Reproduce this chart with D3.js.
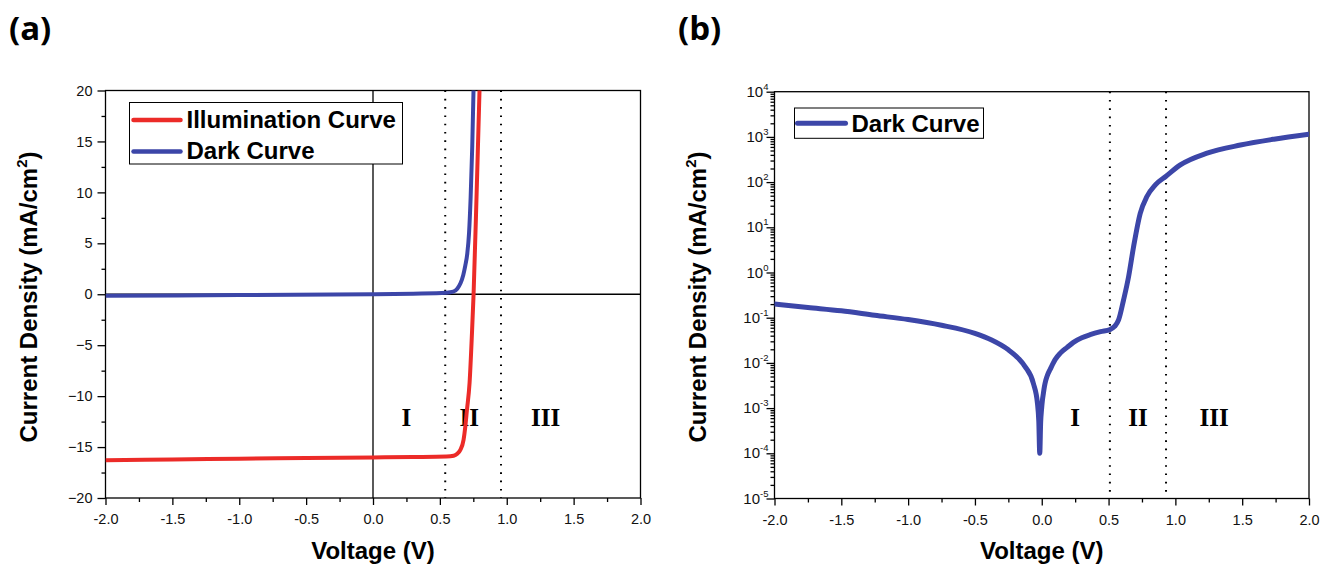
<!DOCTYPE html>
<html>
<head>
<meta charset="utf-8">
<script src="https://cdn.jsdelivr.net/npm/d3@7"></script>
<style>
  body { margin: 0; background: #fff; }
  svg { display: block; font-family: "Liberation Sans", Arial, sans-serif; }
</style>
</head>
<body>
<svg id="chart" width="1322" height="566"></svg>
<script>
// panel (a): J-V curves, linear axis (V in volts, J in mA/cm2)
const illumV = [-2.0, -1.5, -1.0, -0.5, 0.0, 0.3, 0.55, 0.603, 0.63, 0.652, 0.677, 0.69, 0.702, 0.722, 0.74, 0.752, 0.775, 0.797];
const illumJ = [-16.3, -16.22, -16.15, -16.08, -16.02, -15.98, -15.93, -15.85, -15.65, -15.3, -14.3, -13.0, -11.4, -8.7, -3.8, 0.0, 10.0, 20.3];
const darkV = [-2.0, -1.0, 0.0, 0.3, 0.55, 0.6, 0.63, 0.655, 0.675, 0.69, 0.705, 0.718, 0.73, 0.742, 0.752];
const darkJ = [-0.15, -0.08, 0.0, 0.06, 0.15, 0.25, 0.55, 1.1, 1.9, 2.8, 4.0, 6.0, 9.5, 14.5, 20.3];

// panel (b): dark curve, |J| on a log axis
const logDarkV = [-2.0, -1.75, -1.5, -1.25, -1.0, -0.75, -0.5, -0.375, -0.25, -0.175, -0.125, -0.0625, -0.0325, -0.022, -0.015,
  -0.008, -0.002, 0.005, 0.012, 0.02, 0.03, 0.045, 0.062, 0.1, 0.137, 0.19, 0.237, 0.3, 0.362, 0.44, 0.512, 0.545, 0.575, 0.612,
  0.65, 0.687, 0.737, 0.787, 0.85, 0.93, 1.037, 1.237, 1.487, 1.737, 2.0];
const logDarkJ = [0.20, 0.168, 0.142, 0.113, 0.091, 0.068, 0.045, 0.032, 0.0195, 0.0126, 0.0083, 0.0035, 0.0013, 0.0005, 0.0001,
  0.0005, 0.0009, 0.0015, 0.0021, 0.0030, 0.0041, 0.0056, 0.0071, 0.0118, 0.0162, 0.022, 0.0285, 0.036, 0.042, 0.049, 0.055, 0.064,
  0.089, 0.245, 0.81, 3.7, 20.4, 48, 87, 135, 240, 437, 660, 890, 1150];

const xTicks = [-2, -1.5, -1, -0.5, 0, 0.5, 1, 1.5, 2];
const xMinor = [-1.75, -1.25, -0.75, -0.25, 0.25, 0.75, 1.25, 1.75];
const yTicksA = [-20, -15, -10, -5, 0, 5, 10, 15, 20];
const yMinorA = [-17.5, -12.5, -7.5, -2.5, 2.5, 7.5, 12.5, 17.5];
const decadesB = [-5, -4, -3, -2, -1, 0, 1, 2, 3, 4];

const regionNames = ['I', 'II', 'III'];
const regionV = [0.25, 0.72, 1.29];
const boundsA = [0.54, 0.957];
const boundsB = [0.51, 0.93];
const labelJA = -12;
const labelJB = 6.5e-4;

const red = '#ec2b28';
const blue = '#3c46a8';

const svg = d3.select('#chart');

function styleAxis(g) {
  g.select('.domain').remove();
  g.selectAll('line').attr('stroke', '#000').attr('stroke-width', 1.3);
  g.selectAll('text').attr('font-size', 14.5).attr('fill', '#111')
    .attr('font-family', '"Liberation Sans", Arial, sans-serif');
}

function drawXAxis(g, x, bottom) {
  g.append('g').attr('transform', `translate(0,${bottom})`)
    .call(d3.axisBottom(x).tickValues(xMinor).tickSize(4).tickSizeOuter(0).tickFormat(''))
    .call(styleAxis);
  g.append('g').attr('transform', `translate(0,${bottom})`)
    .call(d3.axisBottom(x).tickValues(xTicks).tickSize(7).tickSizeOuter(0).tickPadding(9)
      .tickFormat(d => d.toFixed(1)))
    .call(styleAxis);
}

function drawFrame(g, left, top, right, bottom, id) {
  g.append('clipPath').attr('id', id)
    .append('rect').attr('x', left).attr('y', top).attr('width', right - left).attr('height', bottom - top);
  g.append('rect').attr('x', left).attr('y', top).attr('width', right - left).attr('height', bottom - top)
    .attr('fill', 'none').attr('stroke', '#000').attr('stroke-width', 1.3);
}

function drawRegions(g, x, top, bottom, bounds, yLabel) {
  g.selectAll(null).data(bounds).join('line')
    .attr('x1', d => x(d)).attr('x2', d => x(d)).attr('y1', top).attr('y2', bottom)
    .attr('stroke', '#000').attr('stroke-width', 2).attr('stroke-dasharray', '1.6 6.7');
  g.selectAll(null).data(regionNames).join('text')
    .attr('x', (d, i) => x(regionV[i])).attr('y', yLabel + 9)
    .attr('text-anchor', 'middle')
    .attr('font-family', '"Liberation Serif", "Times New Roman", serif')
    .attr('font-weight', 'bold').attr('font-size', 25)
    .text(d => d);
}

function drawTitles(g, tag, tagX, yLabelX, xCenter) {
  g.append('text').attr('x', tagX).attr('y', 40)
    .attr('font-family', '"Open Sans", "Noto Sans", sans-serif')
    .attr('font-weight', 'bold').attr('font-size', 33).text(tag);
  const yl = g.append('text')
    .attr('transform', `translate(${yLabelX},297) rotate(-90)`)
    .attr('text-anchor', 'middle').attr('font-weight', 'bold').attr('font-size', 24);
  yl.append('tspan').text('Current Density (mA/cm');
  yl.append('tspan').attr('font-size', 15).attr('dy', -10).text('2');
  yl.append('tspan').attr('dy', 10).text(')');
  g.append('text').attr('x', xCenter).attr('y', 559).attr('text-anchor', 'middle')
    .attr('font-weight', 'bold').attr('font-size', 24).text('Voltage (V)');
}

// ---------- panel (a) ----------
{
  const left = 105.5, right = 640.5, top = 90.5, bottom = 498;
  const g = svg.append('g');
  const x = d3.scaleLinear().domain([-2, 2]).range([left, right]);
  const y = d3.scaleLinear().domain([-20, 20]).range([bottom, top]);

  drawFrame(g, left, top, right, bottom, 'clipA');
  drawXAxis(g, x, bottom);
  g.append('g').attr('transform', `translate(${left},0)`)
    .call(d3.axisLeft(y).tickValues(yMinorA).tickSize(4).tickSizeOuter(0).tickFormat(''))
    .call(styleAxis);
  g.append('g').attr('transform', `translate(${left},0)`)
    .call(d3.axisLeft(y).tickValues(yTicksA).tickSize(8).tickSizeOuter(0).tickPadding(5))
    .call(styleAxis);

  // zero lines
  g.append('line').attr('x1', left).attr('x2', right).attr('y1', y(0)).attr('y2', y(0))
    .attr('stroke', '#000').attr('stroke-width', 1.3);
  g.append('line').attr('x1', x(0)).attr('x2', x(0)).attr('y1', top).attr('y2', bottom)
    .attr('stroke', '#000').attr('stroke-width', 1.3);

  drawRegions(g, x, top, bottom, boundsA, y(labelJA));

  const line = d3.line().x(d => x(d[0])).y(d => y(d[1])).curve(d3.curveMonotoneX);
  const plot = g.append('g').attr('clip-path', 'url(#clipA)');
  plot.append('path').datum(d3.zip(darkV, darkJ)).attr('d', line)
    .attr('fill', 'none').attr('stroke', blue).attr('stroke-width', 4).attr('stroke-linejoin', 'round');
  plot.append('path').datum(d3.zip(illumV, illumJ)).attr('d', line)
    .attr('fill', 'none').attr('stroke', red).attr('stroke-width', 4).attr('stroke-linejoin', 'round');

  // legend
  const lg = g.append('g').attr('transform', `translate(${left + 24},${top + 12})`);
  lg.append('rect').attr('width', 273).attr('height', 61.5)
    .attr('fill', '#fff').attr('stroke', '#000').attr('stroke-width', 1);
  [['Illumination Curve', red], ['Dark Curve', blue]].forEach(([name, c], i) => {
    const cy = 17.5 + i * 31.5;
    lg.append('line').attr('x1', 4).attr('x2', 51).attr('y1', cy).attr('y2', cy)
      .attr('stroke', c).attr('stroke-width', 4.5).attr('stroke-linecap', 'round');
    lg.append('text').attr('x', 57).attr('y', cy + 7.5)
      .attr('font-weight', 'bold').attr('font-size', 24).text(name);
  });

  drawTitles(g, '(a)', 9, 36.5, x(0));
}

// ---------- panel (b) ----------
{
  const left = 774.5, right = 1309, top = 91.7, bottom = 498.5;
  const g = svg.append('g');
  const x = d3.scaleLinear().domain([-2, 2]).range([left, right]);
  const y = d3.scaleLog().domain([1e-5, 1e4]).range([bottom, top]);

  drawFrame(g, left, top, right, bottom, 'clipB');
  drawXAxis(g, x, bottom);

  const minor = [];
  decadesB.slice(0, -1).forEach(p => { for (let k = 2; k <= 9; k++) minor.push(k * Math.pow(10, p)); });
  g.append('g').attr('transform', `translate(${left},0)`)
    .call(d3.axisLeft(y).tickValues(minor).tickSize(4).tickSizeOuter(0).tickFormat(''))
    .call(styleAxis);
  g.append('g').attr('transform', `translate(${left},0)`)
    .call(d3.axisLeft(y).tickValues(decadesB.map(p => Math.pow(10, p))).tickSize(8).tickSizeOuter(0).tickFormat(''))
    .call(styleAxis);
  const tl = g.selectAll(null).data(decadesB).join('text')
    .attr('x', left - 6).attr('y', p => y(Math.pow(10, p)) + 5)
    .attr('text-anchor', 'end').attr('font-size', 15).attr('fill', '#111');
  tl.append('tspan').text('10');
  tl.append('tspan').attr('font-size', 9.5).attr('dy', -7).text(p => p);

  drawRegions(g, x, top, bottom, boundsB, y(labelJB));

  const line = d3.line().x(d => x(d[0])).y(d => y(d[1])).curve(d3.curveMonotoneX);
  g.append('g').attr('clip-path', 'url(#clipB)')
    .append('path').datum(d3.zip(logDarkV, logDarkJ)).attr('d', line)
    .attr('fill', 'none').attr('stroke', blue).attr('stroke-width', 5)
    .attr('stroke-linejoin', 'round').attr('stroke-linecap', 'round');

  const lg = g.append('g').attr('transform', `translate(${left + 20},${top + 16.3})`);
  lg.append('rect').attr('width', 189).attr('height', 30.3)
    .attr('fill', '#fff').attr('stroke', '#000').attr('stroke-width', 1);
  lg.append('line').attr('x1', 3).attr('x2', 51).attr('y1', 15.3).attr('y2', 15.3)
    .attr('stroke', blue).attr('stroke-width', 5).attr('stroke-linecap', 'round');
  lg.append('text').attr('x', 57).attr('y', 23.7)
    .attr('font-weight', 'bold').attr('font-size', 24).text('Dark Curve');

  drawTitles(g, '(b)', 678, 705.5, x(0));
}
</script>
</body>
</html>
